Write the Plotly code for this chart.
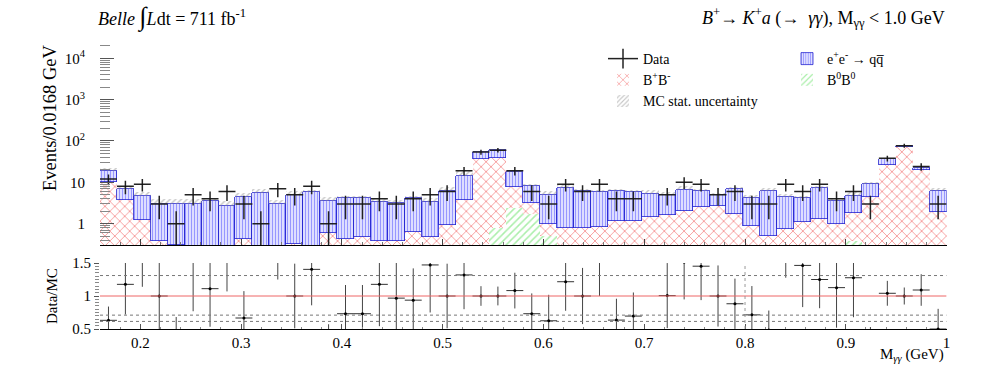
'''
    Belle B+ -> K+ a(-> gamma gamma) diphoton mass spectrum with Data/MC ratio.
'''

import numpy as np
import plotly.graph_objects as go

from plotly.subplots import make_subplots

W, H = 997, 368
FONT = "Liberation Serif"

# binning: 50 bins of 0.0168 GeV from 0.16 to 1.0 GeV
bin_lo = 0.16
bin_w = 0.0168
n_bins = 50

data_counts = [12, 8, 9, 3, 1, 5, 4, 6, 3, 1,
               7, 5, 8, 1, 3, 3, 4, 3, 4, 5,
               6, 19, 54, 60, 19, 6, 3, 9, 6, 9,
               4, 4, 0, 5, 10, 9, 5, 6, 3, 3,
               9, 6, 9, 4, 6, 3, 38, 77, 24, 3]

b0b0 = [0, 0, 0, 0, 0, 0, 0, 0, 0, 0,
        0, 0, 0, 0, 0, 0, 0, 0, 0, 0,
        0, 0, 0, 0.79, 2.36, 1.7, 0.5, 0, 0, 0,
        0, 0, 0, 0, 0, 0, 0, 0, 0, 0,
        0, 0, 0, 0, 0.38, 0, 0, 0, 0, 0]

bpbm = [10.4, 3.75, 1.2, 0.37, 0.3, 0.2, 0.2, 0.2, 0.42, 0.2,
        0.2, 0.33, 0.2, 0.58, 0.42, 0.48, 0.38, 0.39, 0.62, 0.48,
        0.93, 3.75, 37, 37.7, 5.5, 1.4, 0.5, 0.77, 0.77, 0.85,
        1.16, 1.16, 1.48, 1.62, 2.07, 2.59, 2.7, 1.7, 0.88, 0.51,
        0.73, 1.08, 1.27, 1.0, 1.47, 4.5, 26.5, 73, 19.3, 1.96]

qqbar = [8.6, 3.05, 3.5, 2.63, 2.7, 2.8, 3.4, 2.5, 4.08, 5.2,
         2.8, 4.67, 5.5, 2.97, 3.68, 3.62, 3.02, 2.71, 3.65, 2.92,
         5.07, 10.65, 17, 21.5, 9.7, 5.1, 3.8, 6.63, 5.23, 4.9,
         5.14, 4.59, 3.77, 3.35, 4.53, 3.61, 2.3, 5.1, 3.32, 5.69,
         3.77, 3.02, 5.93, 2.55, 2.85, 4.5, 10, 4, 2.7, 4.04]

# relative MC statistical uncertainty per bin
mc_rel_err = [0.16, 0.16, 0.23, 0.30, 0.30, 0.30, 0.14, 0.32, 0.20, 0.25,
              0.27, 0.20, 0.16, 0.25, 0.14, 0.14, 0.20, 0.20, 0.12, 0.20,
              0.27, 0.32, 0.06, 0.06, 0.10, 0.10, 0.25, 0.14, 0.12, 0.14,
              0.10, 0.12, 0.25, 0.20, 0.20, 0.12, 0.12, 0.14, 0.20, 0.20,
              0.14, 0.14, 0.10, 0.20, 0.23, 0.12, 0.08, 0.06, 0.08, 0.20]

x_ticks = [0.2, 0.3, 0.4, 0.5, 0.6, 0.7, 0.8, 0.9, 1.0]
x_tick_text = ["0.2", "0.3", "0.4", "0.5", "0.6", "0.7", "0.8", "0.9", "1"]
y_ticks = [1, 10, 100, 1000, 10000]
y_tick_text = ["1", "10", "10<sup>2</sup>", "10<sup>3</sup>", "10<sup>4</sup>"]
y_minor = [m * 10.0 ** k for k in range(-1, 5) for m in range(2, 10)]
r_ticks = [0.5, 1, 1.5]
r_tick_text = ["0.5", "1", "1.5"]
r_dotted = [1.31, 0.71, 0.615]


def px(x):
    return x / W


def py(y):
    return 1 - y / H


edges = bin_lo + bin_w * np.arange(n_bins + 1)
centers = edges[:-1] + bin_w / 2
n = np.array(data_counts, dtype=float)
total = np.array(b0b0) + np.array(bpbm) + np.array(qqbar)
rel = np.array(mc_rel_err)

fig = make_subplots(rows=2, cols=1, shared_xaxes=False)

# legend entry for data (first so it tops legend 1)
fig.add_trace(go.Scatter(
    x=[None], y=[None], mode="lines+markers", name="Data",
    line=dict(color="#222", width=1.5),
    marker=dict(symbol="line-ns", size=14, line=dict(width=1.5, color="#222"))),
    row=1, col=1)

# stacked MC
fig.add_trace(go.Bar(
    x=centers, y=b0b0, width=bin_w, name="B<sup>0</sup>B<sup>0</sup>",
    marker=dict(color="rgba(0,0,0,0)", line=dict(width=0),
                pattern=dict(shape="/", fgcolor="#55dd55", bgcolor="rgba(0,0,0,0)",
                             size=5, solidity=0.3)),
    legend="legend2"), row=1, col=1)
fig.add_trace(go.Bar(
    x=centers, y=bpbm, width=bin_w, name="B<sup>+</sup>B<sup>-</sup>",
    marker=dict(color="rgba(0,0,0,0)", line=dict(width=0),
                pattern=dict(shape="x", fgcolor="#ee3030", bgcolor="rgba(0,0,0,0)",
                             size=7, solidity=0.24)),
    ), row=1, col=1)
fig.add_trace(go.Bar(
    x=centers, y=qqbar, width=bin_w, name="e<sup>+</sup>e<sup>-</sup> \u2192 qq\u0305",
    marker=dict(color="rgba(0,0,0,0)", line=dict(width=0.8, color="#2626d0"),
                pattern=dict(shape="|", fgcolor="#2f2fff", bgcolor="rgba(0,0,0,0)",
                             size=3, solidity=0.55)),
    legend="legend2"), row=1, col=1)

# MC stat uncertainty: drawn on top of the stack (explicit base -> overlay)
fig.add_trace(go.Bar(
    x=centers, y=total * rel, base=total, width=bin_w, name="MC stat. uncertainty",
    marker=dict(color="rgba(0,0,0,0)", line=dict(width=0),
                pattern=dict(shape="/", fgcolor="#8a8a8a", bgcolor="rgba(0,0,0,0)",
                             size=4, solidity=0.35))), row=1, col=1)

# data points
mask = n > 0
err_up = np.sqrt(n)
err_dn = np.minimum(np.sqrt(n), n * 0.999)
fig.add_trace(go.Scatter(
    x=centers[mask], y=n[mask], mode="markers",
    marker=dict(size=1, color="black"),
    error_x=dict(type="constant", value=bin_w / 2, width=0, thickness=1.5, color="#222"),
    error_y=dict(type="data", array=err_up[mask], arrayminus=err_dn[mask],
                 width=0, thickness=1.5, color="#222"),
    showlegend=False), row=1, col=1)

# ratio panel
ratio = n[mask] / total[mask]
ratio_err = ratio * np.sqrt(1 / n[mask] + rel[mask] ** 2)
fig.add_trace(go.Scatter(
    x=centers[mask], y=ratio, mode="markers",
    marker=dict(size=3, color="black"),
    error_x=dict(type="constant", value=bin_w / 2, width=0, thickness=1, color="#333"),
    error_y=dict(type="data", array=ratio_err, width=0, thickness=1, color="#444"),
    showlegend=False), row=2, col=1)

xdom = [px(100), px(946.6)]
fig.update_layout(
    width=W, height=H,
    margin=dict(l=0, r=0, t=0, b=0, autoexpand=False),
    paper_bgcolor="white", plot_bgcolor="white",
    font=dict(family=FONT, size=15, color="black"),
    barmode="stack", bargap=0,
    legend=dict(x=px(603), y=py(43), xanchor="left", yanchor="top", traceorder="normal",
                bgcolor="rgba(0,0,0,0)", font=dict(size=14), tracegroupgap=0),
    legend2=dict(x=px(787), y=py(43), xanchor="left", yanchor="top", traceorder="reversed",
                 bgcolor="rgba(0,0,0,0)", font=dict(size=14), tracegroupgap=0),
    xaxis=dict(domain=xdom, range=[0.16, 1.0], showticklabels=False,
               showline=True, linecolor="black", linewidth=1, mirror=False,
               tickvals=x_ticks, ticks="inside", ticklen=6, tickcolor="#444",
               minor=dict(dtick=0.02, ticks="inside", ticklen=3, tickcolor="#777"),
               showgrid=False, zeroline=False),
    yaxis=dict(domain=[py(245), py(43)], type="log", range=[-0.517, 4.37],
               showline=False, tickvals=y_ticks, ticktext=y_tick_text,
               ticks="inside", ticklen=14, tickcolor="#555",
               minor=dict(tickvals=y_minor, ticks="inside", ticklen=10, tickcolor="#888"),
               ticklabelstandoff=14,
               showgrid=False, zeroline=False),
    xaxis2=dict(domain=xdom, range=[0.16, 1.0], anchor="y2",
                showline=True, linecolor="black", linewidth=1,
                tickvals=x_ticks, ticktext=x_tick_text,
                ticks="inside", ticklen=5, tickcolor="#555",
                minor=dict(dtick=0.02, ticks="inside", ticklen=2, tickcolor="#888"),
                showgrid=False, zeroline=False),
    yaxis2=dict(domain=[py(329), py(263)], range=[0.5, 1.5], anchor="x2",
                showline=False, tickvals=r_ticks, ticktext=r_tick_text,
                ticks="outside", ticklen=5, tickcolor="#555",
                minor=dict(dtick=0.05, ticks="outside", ticklen=4, tickcolor="#888"),
                showgrid=False, zeroline=False),
)

# ratio reference line and dotted guide lines
fig.add_shape(type="line", xref="x2", yref="y2", x0=0.16, x1=1.0, y0=1, y1=1,
              line=dict(color="#ee6666", width=1))
for v in r_dotted:
    fig.add_shape(type="line", xref="x2", yref="y2", x0=0.16, x1=1.0, y0=v, y1=v,
                  line=dict(color="#777", width=1, dash="dot"))
fig.add_shape(type="line", xref="x2", yref="y2", x0=0.8, x1=0.8, y0=0.5, y1=1.5,
              line=dict(color="#999", width=1, dash="dot"))

annotations = [
    dict(text="Events/0.0168 GeV", x=px(50), y=py(118), textangle=-90,
         xanchor="center", yanchor="middle", font=dict(size=18.5)),
    dict(text="Data/MC", x=px(52), y=py(296), textangle=-90,
         xanchor="center", yanchor="middle", font=dict(size=15)),
    dict(text="M<sub><i>\u03b3\u03b3</i></sub> (GeV)", x=px(946), y=py(355),
         xanchor="right", yanchor="middle", font=dict(size=15)),
    dict(text="<i>Belle</i> <span style='font-size:26px'>\u222b</span><i>L</i>dt = 711 fb<sup>-1</sup>",
         x=px(96), y=py(17), xanchor="left", yanchor="middle", font=dict(size=18)),
    dict(text="<i>B</i><sup>+</sup>\u2192 <i>K</i><sup>+</sup><i>a</i> (\u2192  <i>\u03b3\u03b3</i>), "
              "M<sub>\u03b3\u03b3</sub> &lt; 1.0 GeV",
         x=px(947), y=py(17), xanchor="right", yanchor="middle", font=dict(size=18)),
]
for a in annotations:
    fig.add_annotation(xref="paper", yref="paper", showarrow=False, **a)

# pin the graph to the top-left corner of the page
page_fix = ("document.documentElement.style.overflow='hidden';"
            "document.body.style.margin='0';"
            "document.body.style.overflow='hidden';"
            "var gd=document.getElementById('{plot_id}');"
            "gd.style.position='fixed';gd.style.left='0px';gd.style.top='0px';")
fig.write_html("out.html", config={"displayModeBar": False}, post_script=page_fix)
